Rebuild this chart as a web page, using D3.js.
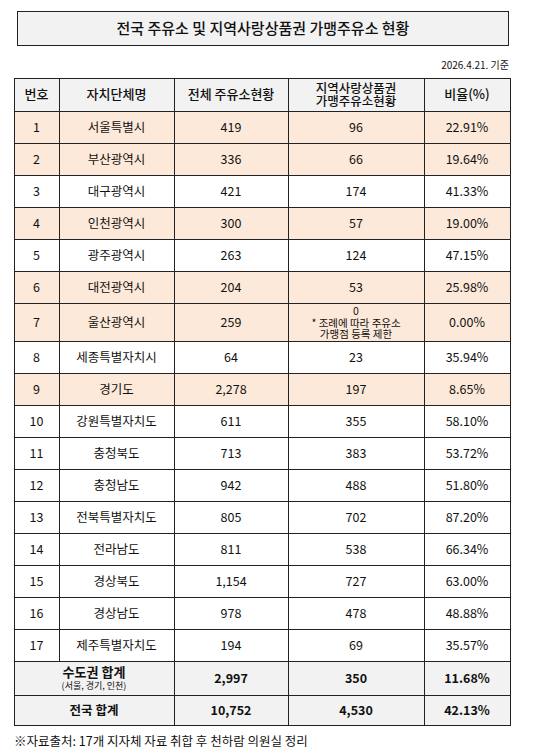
<!DOCTYPE html><html><head><meta charset="utf-8">
<script src="https://cdn.jsdelivr.net/npm/d3@7"></script>
<style>body{margin:0;background:#fff}text{font-family:"Noto Sans CJK KR","Noto Sans",sans-serif;fill:#111}</style></head><body>
<script>
const headers=["번호","자치단체명","전체 주유소현황","지역사랑상품권\n가맹주유소현황","비율(%)"];
const nums=[1,2,3,4,5,6,7,8,9,10,11,12,13,14,15,16,17];
const regions=["서울특별시","부산광역시","대구광역시","인천광역시","광주광역시","대전광역시","울산광역시","세종특별자치시","경기도","강원특별자치도","충청북도","충청남도","전북특별자치도","전라남도","경상북도","경상남도","제주특별자치도"];
const totalStations=["419","336","421","300","263","204","259","64","2,278","611","713","942","805","811","1,154","978","194"];
const memberStations=["96","66","174","57","124","53","0\n* 조례에 따라 주유소\n가맹점 등록 제한","23","197","355","383","488","702","538","727","478","69"];
const ratios=["22.91%","19.64%","41.33%","19.00%","47.15%","25.98%","0.00%","35.94%","8.65%","58.10%","53.72%","51.80%","87.20%","66.34%","63.00%","48.88%","35.57%"];
const highlighted=[1,2,4,6,7,9];
const summaryLabels=["수도권 합계","전국 합계"];
const summarySub=["(서울, 경기, 인천)",""];
const summaryTotal=["2,997","10,752"];
const summaryMember=["350","4,530"];
const summaryRatio=["11.68%","42.13%"];

const svg=d3.select("body").append("svg").attr("width",555).attr("height",752);
const colX=[14,59,174,288,424,510];
const rows=[{type:"h",h:33,cells:headers}];
nums.forEach((n,i)=>rows.push({type:highlighted.includes(n)?"p":"n",h:n===7?38:32,cells:[String(n),regions[i],totalStations[i],memberStations[i],ratios[i]]}));
summaryLabels.forEach((l,i)=>rows.push({type:"s",h:i===0?34:30,cells:[l,summaryTotal[i],summaryMember[i],summaryRatio[i]],sub:summarySub[i]}));
let y=78;rows.forEach(r=>{r.y=y;y+=r.h;});
const fill={h:"#f2f2f2",p:"#fde9d9",n:"#fff",s:"#f2f2f2"};

svg.append("rect").attr("x",17.5).attr("y",11.5).attr("width",491).attr("height",34).attr("fill","#f2f2f2").attr("stroke","#222");
svg.append("text").attr("x",263).attr("y",34).attr("text-anchor","middle").attr("font-size",15).attr("font-weight",500).text("전국 주유소 및 지역사랑상품권 가맹주유소 현황");
svg.append("text").attr("x",509).attr("y",69).attr("text-anchor","end").attr("font-size",10).text("2026.4.21. 기준");

const bg=svg.append("g"), tg=svg.append("g"), lg=svg.append("g");
rows.forEach(r=>{
  bg.append("rect").attr("x",colX[0]).attr("y",r.y).attr("width",colX[5]-colX[0]).attr("height",r.h).attr("fill",fill[r.type]);
  let spans=r.type==="s"?[[0,2],[2,3],[3,4],[4,5]]:[[0,1],[1,2],[2,3],[3,4],[4,5]];
  spans.forEach(([a,b],k)=>{
    const cx=(colX[a]+colX[b])/2, cy=r.y+r.h/2;
    const lines=r.cells[k].split("\n");
    const fs=r.type==="h"?(lines.length>1?12.5:13):(lines.length>2?10.5:12.5);
    const lh=lines.length>2?11.5:13;
    const t=tg.append("text").attr("x",cx).attr("text-anchor","middle").attr("font-size",fs)
      .attr("font-weight",r.type==="s"?700:(r.type==="h"?500:400));
    if(r.type==="s"&&k===0&&r.sub){
      t.attr("y",cy-1).attr("font-size",13).text(r.cells[0]);
      tg.append("text").attr("x",cx).attr("y",cy+11).attr("text-anchor","middle").attr("font-size",9).text(r.sub);
      return;
    }
    lines.forEach((ln,j)=>t.append("tspan").attr("x",cx).attr("y",cy+4.5+(j-(lines.length-1)/2)*lh).text(ln));
  });
  lg.append("line").attr("x1",colX[0]).attr("x2",colX[5]+1).attr("y1",r.y+r.h+0.5).attr("y2",r.y+r.h+0.5).attr("stroke","#222");
  colX.forEach((x,i)=>{ if(r.type==="s"&&i===1)return;
    lg.append("line").attr("x1",x+0.5).attr("x2",x+0.5).attr("y1",r.y).attr("y2",r.y+r.h+1).attr("stroke","#222");});
});
lg.append("line").attr("x1",colX[0]).attr("x2",colX[5]+1).attr("y1",78.5).attr("y2",78.5).attr("stroke","#222");
svg.append("text").attr("x",14).attr("y",746).attr("font-size",12.5).text("※자료출처: 17개 지자체 자료 취합 후 천하람 의원실 정리");
</script></body></html>
